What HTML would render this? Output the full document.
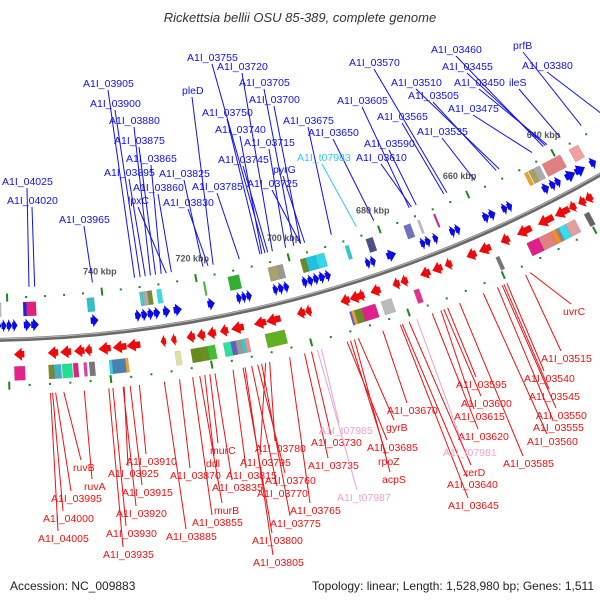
<!DOCTYPE html>
<html><head><meta charset="utf-8"><style>
html,body{margin:0;padding:0;background:#fff;}
svg{display:block;font-family:"Liberation Sans",sans-serif;}
</style></head><body>
<svg id="chart" width="600" height="600" viewBox="0 0 600 600">
<text x="300" y="22" text-anchor="middle" font-size="13" font-style="italic" fill="#333">Rickettsia bellii OSU 85-389, complete genome</text>
<g id="layer"></g>
<text x="10" y="590" font-size="12" fill="#222">Accession: NC_009883</text>
<text x="594" y="590" font-size="12" fill="#222" text-anchor="end">Topology: linear; Length: 1,528,980 bp; Genes: 1,511</text>
</svg>
<script>
// ---- data (kbp) ----
const tickMajor = [760,740,720,700,680,660,640,620];
const tickLabels = ["","740 kbp","720 kbp","700 kbp","680 kbp","660 kbp","640 kbp",""];
const fwdGenes = [[762.4,761.3],[761.3,760.2],[760.2,759.1],[759.1,758.0],[756.7,755.2],[755.2,753.6],[742.9,741.3],
 [733.7,732.4],[732.4,731.1],[731.1,729.8],[729.8,728.5],[727.9,726.4],[725.7,724.0],[718.6,717.1],
 [712.5,711.4],[711.4,710.4],[710.4,709.3],[704.8,703.7],[703.7,702.5],[702.5,701.4],
 [698.6,697.4],[697.4,696.2],[696.2,695.0],[695.0,693.7],[693.7,692.5],[685.0,683.9],[683.9,682.8],[680.4,678.4],
 [673.0,671.9],[671.9,670.8],[670.2,669.1],[666.5,665.3],[665.3,664.2],[659.1,657.7],[657.7,656.3],
 [654.8,653.6],[653.6,652.5],[645.5,644.0],[643.8,642.5],[642.5,641.3],[640.2,637.9],[637.9,635.6],[634.4,633.0]];
const revGenes = [[758.9,756.8],[752.1,750.0],[749.6,747.4],[746.8,744.7],[744.7,743.2],[741.9,739.4],[739.0,736.2],[736.2,733.4],
 [729.3,728.2],[727.2,726.1],[724.0,722.3],[721.9,720.2],[719.8,718.0],[717.2,715.5],[714.9,712.3],[710.2,707.7],[707.7,704.7],
 [701.3,699.6],[699.6,698.3],[692.2,690.3],[690.3,688.1],[688.6,687.2],[685.9,683.8],[681.2,679.7],[679.5,678.0],[675.3,673.2],
 [672.7,670.6],[670.0,668.5],[665.3,663.2],[662.6,660.0],[657.8,655.9],[654.2,651.0],[649.5,646.1],[645.7,642.5],[642.5,641.0],[640.4,638.8],[638.8,637.2]];
const fwdBoxes = [[762.4,761.3,'#bbbbbb'],[756.7,756.0,'#2020e0'],[756.0,754.0,'#e0207a'],[743.3,741.8,'#30c0c8'],
 [732.2,731.6,'#40d0d0'],[731.6,730.5,'#aaaaaa'],[730.5,729.6,'#7a8a2a'],[728.6,727.6,'#30e0e0'],[718.7,718.3,'#40c040'],
 [713.4,711.0,'#30b030'],[704.8,702.7,'#a8a070'],[702.7,701.6,'#999999'],[697.8,696.6,'#6a8a2a'],[696.6,694.5,'#20c0e0'],
 [694.5,692.6,'#30d8e8'],[688.0,687.2,'#30c8d0'],[683.4,681.9,'#505088'],[675.0,673.5,'#7070c0'],[671.9,671.4,'#bbbbbb'],
 [668.3,667.9,'#e02090'],[647.4,646.6,'#f0a020'],[646.4,645.3,'#a8a060'],[645.3,643.8,'#aaaaaa'],[643.2,638.9,'#e08080'],[636.8,634.6,'#f0a0a0']];
const revBoxes = [[758.9,756.8,'#e8208a'],[752.1,751.0,'#7a8a2a'],[751.0,749.6,'#40b0c8'],[749.4,747.4,'#20e090'],[747.2,746.2,'#e02080'],
 [745.1,744.5,'#e040a0'],[744.0,742.9,'#777777'],[740.0,739.4,'#30d0e0'],[739.4,736.8,'#4a80b0'],[736.8,736.2,'#f0a030'],
 [726.8,725.7,'#e0e0a0'],[723.6,721.9,'#6a8a1a'],[721.9,720.2,'#6a9020'],[720.2,718.7,'#40c030'],[717.0,715.5,'#30e0a0'],
 [715.5,714.5,'#6060c0'],[714.5,713.4,'#999999'],[713.4,712.7,'#30d0d0'],[712.7,711.9,'#f09090'],[708.5,704.5,'#60b020'],
 [691.1,690.7,'#6060d0'],[690.7,690.1,'#f0a030'],[690.1,688.6,'#6a8a2a'],[688.6,685.7,'#e0208a'],[684.5,682.3,'#bbbbbb'],
 [677.6,676.5,'#e83090'],[660.0,659.2,'#777777'],[653.2,650.6,'#e0208a'],[650.6,647.8,'#e08080'],[647.8,646.8,'#f09020'],
 [646.8,646.1,'#888888'],[646.1,644.6,'#30e0f0'],[644.6,642.5,'#e0a0a0'],[640.4,639.3,'#666666']];
const topLabels = [["A1I_04025",2,181,755.3],["A1I_04020",7,200,754.1],["A1I_03965",59,219,741.8],["A1I_03905",83,83,732.8],
 ["A1I_03900",90,103,731.6],["A1I_03880",109,120,729.4],["A1I_03875",114,140,728.3],["A1I_03865",126,158,727.1],
 ["A1I_03895",104,172,730.5],["A1I_03860",133,187,724.9],["lpxC",128,200,726],["A1I_03825",159,173,718.1],
 ["A1I_03830",163,202,717],["A1I_03785",192,186,710.2],["pleD",182,90,715.9],["A1I_03755",187,57,704.6],
 ["A1I_03750",202,112,705.7],["A1I_03745",218,159,704],["A1I_03740",215,129,705.3],["A1I_03720",217,66,703],
 ["A1I_03715",244,142,700.1],["A1I_03705",239,82,698.3],["A1I_03700",249,99,696.8],["A1I_03725",247,183,696.8],
 ["pyrG",273,169,695.9],["A1I_03675",283,120,690],["A1I_03650",308,132,680.5],["A1I_03610",356,157,672],
 ["A1I_03590",364,143,670.9],["A1I_03605",337,100,672.5],["A1I_03565",377,116,664.6],["A1I_03570",349,62,663.9],
 ["A1I_03535",417,131,657.4],["A1I_03505",408,95,652.4],["A1I_03510",391,82,651.7],["A1I_03475",448,108,643.9],
 ["A1I_03460",431,49,641.2],["A1I_03455",442,66,640.7],["A1I_03450",454,82,640.3],["ileS",509,82,637.1],
 ["prfB",513,45,632],["A1I_03380",522,65,627]];
const topSpecial = [["A1I_t07983",297,157,684.4]];
const botLabels = [["ruvB",73,467,749.4],["ruvA",84,486,745.4],["A1I_03995",51,498,751],["A1I_04000",43,518,751.6],
 ["A1I_04005",38,538,752],["A1I_03910",126,461,734.6],["A1I_03925",108,473,737.6],["A1I_03915",122,492,736.4],
 ["A1I_03920",116,513,737.8],["A1I_03930",106,533,739.8],["A1I_03935",103,554,740.6],["A1I_03870",170,475,726.7],
 ["A1I_03885",166,536,729.7],["A1I_03855",192,522,724.1],["murB",214,510,722.7],["ddl",206,463,721.7],
 ["murC",210,450,720.7],["A1I_03835",212,487,719.7],["A1I_03815",226,475,716.1],["A1I_03795",240,462,709.6],
 ["A1I_03780",255,448,708.8],["A1I_03800",252,540,714.1],["A1I_03805",253,562,713.7],["A1I_03760",265,480,711.2],
 ["A1I_03770",257,493,712.4],["A1I_03765",290,510,704.8],["A1I_03775",270,523,710.4],["A1I_03735",308,465,701.8],
 ["A1I_03730",311,442,700.4],["A1I_03685",367,447,693.2],["rpoZ",378,461,692.5],["acpS",382,479,691.7],
 ["gyrB",386,427,690.9],["A1I_03670",387,410,685.9],["A1I_03595",456,384,672.5],["A1I_03600",461,403,673.3],
 ["A1I_03615",454,416,673.9],["A1I_03620",458,436,675.7],["xerD",463,472,680.5],["A1I_03640",447,484,681.9],
 ["A1I_03645",448,505,682.3],["A1I_03585",503,463,670],["A1I_03515",541,358,656],["A1I_03540",524,378,660],
 ["A1I_03545",529,396,660.6],["A1I_03550",536,415,661],["A1I_03555",533,427,662],["A1I_03560",527,441,665],["uvrC",563,311,655]];
const botSpecial = [["A1I_t07985",319,430,698.4],["A1I_t07987",337,497,699.2],["A1I_t07981",443,452,678.9]];

// ---- geometry ----
const CX=-23, CY=-917;
function ang(k){return (84.1+(k-740)*0.224)*Math.PI/180;}
function pt(k,r){const a=ang(k);return [CX+r*Math.cos(a), CY+r*Math.sin(a)];}
const NS='http://www.w3.org/2000/svg';
const layer=document.getElementById('layer');
function mk(tag,attrs,parent){const e=document.createElementNS(NS,tag);for(const k in attrs)e.setAttribute(k,attrs[k]);(parent||layer).appendChild(e);return e;}
function poly(points){return points.map(p=>p[0].toFixed(1)+','+p[1].toFixed(1)).join(' ');}
function arcPath(k1,k2,r){const p1=pt(k1,r),p2=pt(k2,r);return 'M'+p1[0]+','+p1[1]+' A'+r+','+r+' 0 0 0 '+p2[0]+','+p2[1];}

let bb=mk('path',{d:arcPath(775,610,1257),fill:'none',stroke:'#6a6a6a','stroke-width':4});


let bb2=mk('path',{d:arcPath(775,610,1256),fill:'none',stroke:'#bbb','stroke-width':1});



for(let k=776;k>=612;k-=4){
  const major = tickMajor.indexOf(k)>=0;
  [1215,1303].forEach(r=>{
    if(major){const a=pt(k,r-4),b=pt(k,r+4);
      const l=mk('line',{x1:a[0],y1:a[1],x2:b[0],y2:b[1],stroke:'#1a8a1a','stroke-width':2});
      
      
    } else {const p=pt(k,r);
      const c=mk('rect',{x:p[0]-1,y:p[1]-1,width:2,height:2,fill:'#1a8a1a'});
      
      }
  });
}
tickMajor.forEach((k,i)=>{if(!tickLabels[i])return;const p=pt(k,1195);
  const t=mk('text',{x:p[0],y:p[1]+3,'text-anchor':'middle','font-size':9,'font-weight':'bold',fill:'#555'});
  t.textContent=tickLabels[i];
  
  
});

function box(k1,k2,r0,r1,color,name){
  const pts=[pt(k1,r0),pt(k2,r0),pt(k2,r1),pt(k1,r1)];
  const e=mk('polygon',{points:poly(pts),fill:color,stroke:'rgba(0,0,0,0.15)','stroke-width':0.5});
  
  
}
fwdBoxes.forEach(b=>box(b[0],b[1],1220,1234,b[2],'forward-cog-box'));
revBoxes.forEach(b=>box(b[0],b[1],1284,1298,b[2],'reverse-cog-box'));

function arrow(tail,tip,rm,h,color,name){
  const len=Math.abs(tail-tip), dir=tip<tail?1:-1;
  const head=Math.min(len*0.75,1.8);
  const kb=tip+dir*head;
  const pts=[pt(tail,rm-h/4),pt(kb,rm-h/4),pt(kb,rm-h/2),pt(tip,rm),pt(kb,rm+h/2),pt(kb,rm+h/4),pt(tail,rm+h/4)];
  const e=mk('polygon',{points:poly(pts),fill:color});
  
  
}
fwdGenes.forEach(g=>arrow(g[0],g[1],1243,13,'#0a0aee','forward-gene-arrow'));
revGenes.forEach(g=>arrow(g[1],g[0],1272,13,'#ee0a0a','reverse-gene-arrow'));

function label(l,color,top){
  const [name,x,y,k]=l;
  const long=name.length>5;
  let a,b;
  if(top){a=[x+(long?25:10),y+7];b=pt(k,1205);}
  else {a=[x+(long?20:8),y-7];b=pt(k,1312);}
  const ln=mk('line',{x1:a[0],y1:a[1],x2:b[0],y2:b[1],stroke:color,'stroke-width':1});
  
  
  const t=mk('text',{x:x,y:y+4,'font-size':10.5,fill:color});
  t.textContent=name;
  
  
}
topLabels.forEach(l=>label(l,'#1010f0',true));
topSpecial.forEach(l=>label(l,'#30c8f8',true));
botLabels.forEach(l=>label(l,'#f01010',false));
botSpecial.forEach(l=>label(l,'#f0a0d0',false));
</script>
</body></html>
